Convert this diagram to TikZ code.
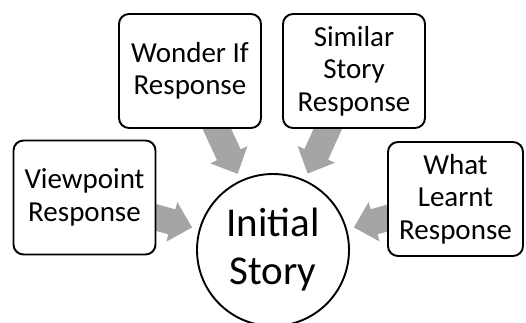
\documentclass[tikz,border=0pt]{standalone}
\usepackage{fontspec}
\setmainfont{Carlito}
\usetikzlibrary{calc}
\definecolor{arrowgray}{HTML}{A5A5A5}
\tikzset{
  respbox/.style={draw=black, fill=white, line width=1.9pt, rounded corners=10pt,
    minimum width=142pt, minimum height=114pt, align=center, inner sep=0pt,
    font=\fontsize{29}{32.5}\selectfont},
  storycircle/.style={draw=black, fill=white, line width=1.9pt, circle,
    minimum size=152pt, align=center, inner sep=0pt,
    font=\fontsize{41}{48}\selectfont},
  blockarrow/.style={fill=arrowgray, draw=none}
}
\newcommand\myblockarrow[2]{%
  \coordinate (T) at ($(#2.center)!84pt!(#1.center)$);
  \coordinate (H) at ($(T)!21pt!(#1.center)$);
  \coordinate (S) at (#1.center);
  \fill[blockarrow] ($(S)!13pt!90:(T)$) -- ($(H)!13pt!90:(T)$) -- ($(H)!20.5pt!90:(T)$)
    -- (T) -- ($(H)!20.5pt!-90:(T)$) -- ($(H)!13pt!-90:(T)$) -- ($(S)!13pt!-90:(T)$) -- cycle;
}
\begin{document}
\begin{tikzpicture}[x=1pt,y=-1pt]
\useasboundingbox (0,0) rectangle (526,322);
\coordinate (wc) at (190,71);
\coordinate (sc) at (354,71);
\coordinate (vc) at (84.5,197.5);
\coordinate (lc) at (455.5,199);
\coordinate (cc) at (273,250);
\myblockarrow{wc}{cc}
\myblockarrow{sc}{cc}
\myblockarrow{vc}{cc}
\myblockarrow{lc}{cc}
\node[respbox] (wonder) at (wc) {Wonder If\\Response};
\node[respbox] (similar) at (sc) {Similar\\Story\\Response};
\node[respbox] (viewpoint) at (vc) {Viewpoint\\Response};
\node[respbox, minimum width=135pt] (learnt) at (lc) {What\\Learnt\\Response};
\node[storycircle] (story) at (cc) {Initial\\Story};
\end{tikzpicture}
\end{document}
